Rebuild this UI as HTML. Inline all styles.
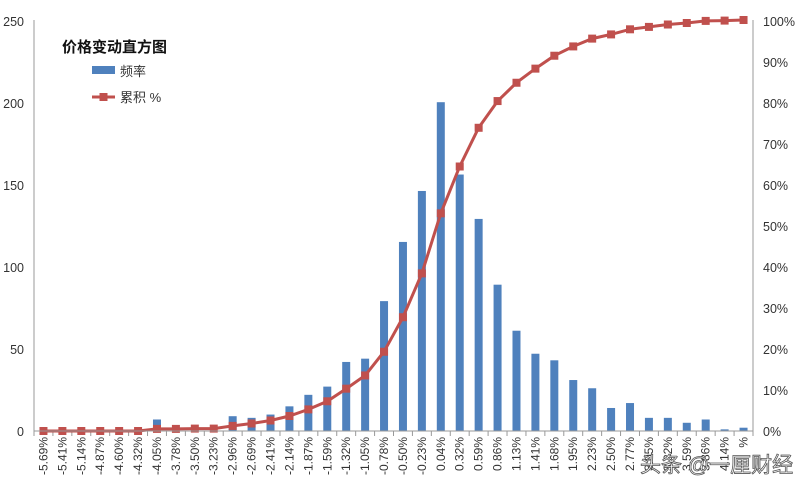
<!DOCTYPE html>
<html><head><meta charset="utf-8"><style>
body{margin:0;background:#fff;}
svg{display:block;font-family:"Liberation Sans","Noto Sans CJK SC",sans-serif;}
.t{font-size:12.5px;fill:#333;}
.x{font-size:12px;fill:#333;}
</style></head><body>
<svg id="s" width="801" height="486" viewBox="0 0 801 486">
<g id="g"></g>
<line x1="34" y1="20" x2="34" y2="431" stroke="#999"/>
<line x1="753" y1="20" x2="753" y2="431" stroke="#999"/>
<line x1="34" y1="431" x2="753" y2="431" stroke="#999"/>
<g class="t" text-anchor="end">
<text x="24" y="436">0</text><text x="24" y="354">50</text><text x="24" y="272">100</text><text x="24" y="190">150</text><text x="24" y="108">200</text><text x="24" y="26">250</text>
</g>
<g class="t">
<text x="763" y="436">0%</text><text x="763" y="395">10%</text><text x="763" y="354">20%</text><text x="763" y="313">30%</text><text x="763" y="272">40%</text><text x="763" y="231">50%</text><text x="763" y="190">60%</text><text x="763" y="149">70%</text><text x="763" y="108">80%</text><text x="763" y="67">90%</text><text x="763" y="26">100%</text>
</g>
<g class="x" text-anchor="end">
<text transform="translate(47.5,437) rotate(-90)">-5.69%</text>
<text transform="translate(66.4,437) rotate(-90)">-5.41%</text>
<text transform="translate(85.3,437) rotate(-90)">-5.14%</text>
<text transform="translate(104.2,437) rotate(-90)">-4.87%</text>
<text transform="translate(123.1,437) rotate(-90)">-4.60%</text>
<text transform="translate(142.1,437) rotate(-90)">-4.32%</text>
<text transform="translate(161,437) rotate(-90)">-4.05%</text>
<text transform="translate(179.9,437) rotate(-90)">-3.78%</text>
<text transform="translate(198.8,437) rotate(-90)">-3.50%</text>
<text transform="translate(217.7,437) rotate(-90)">-3.23%</text>
<text transform="translate(236.7,437) rotate(-90)">-2.96%</text>
<text transform="translate(255.6,437) rotate(-90)">-2.69%</text>
<text transform="translate(274.5,437) rotate(-90)">-2.41%</text>
<text transform="translate(293.4,437) rotate(-90)">-2.14%</text>
<text transform="translate(312.4,437) rotate(-90)">-1.87%</text>
<text transform="translate(331.3,437) rotate(-90)">-1.59%</text>
<text transform="translate(350.2,437) rotate(-90)">-1.32%</text>
<text transform="translate(369.1,437) rotate(-90)">-1.05%</text>
<text transform="translate(388,437) rotate(-90)">-0.78%</text>
<text transform="translate(407,437) rotate(-90)">-0.50%</text>
<text transform="translate(425.9,437) rotate(-90)">-0.23%</text>
<text transform="translate(444.8,437) rotate(-90)">0.04%</text>
<text transform="translate(463.7,437) rotate(-90)">0.32%</text>
<text transform="translate(482.6,437) rotate(-90)">0.59%</text>
<text transform="translate(501.6,437) rotate(-90)">0.86%</text>
<text transform="translate(520.5,437) rotate(-90)">1.13%</text>
<text transform="translate(539.4,437) rotate(-90)">1.41%</text>
<text transform="translate(558.3,437) rotate(-90)">1.68%</text>
<text transform="translate(577.2,437) rotate(-90)">1.95%</text>
<text transform="translate(596.2,437) rotate(-90)">2.23%</text>
<text transform="translate(615.1,437) rotate(-90)">2.50%</text>
<text transform="translate(634,437) rotate(-90)">2.77%</text>
<text transform="translate(652.9,437) rotate(-90)">3.05%</text>
<text transform="translate(671.9,437) rotate(-90)">3.32%</text>
<text transform="translate(690.8,437) rotate(-90)">3.59%</text>
<text transform="translate(709.7,437) rotate(-90)">3.86%</text>
<text transform="translate(728.6,437) rotate(-90)">4.14%</text>
<text transform="translate(747.5,437) rotate(-90)">%</text>
</g>
<text x="62" y="52" style="font-size:15px;font-weight:bold;fill:#111">价格变动直方图</text>
<rect x="92" y="66" width="23" height="8" fill="#4f81bd"/>
<text x="120" y="76" class="t" style="font-size:13px">频率</text>
<line x1="92" y1="97" x2="115" y2="97" stroke="#c0504d" stroke-width="3"/>
<rect x="99.5" y="93" width="8" height="8" fill="#c0504d"/>
<text x="120" y="102" class="t" style="font-size:13px">累积 %</text>
<text x="640" y="472" style="font-size:21px;fill:#fff;stroke:#555;stroke-width:0.8">头条 @一厘财经</text>
</svg>
<script>
var v=[0,0,0,0,0,0,7,0,1,0,9,8,10,15,22,27,42,44,79,115,146,200,156,129,89,61,47,43,31,26,14,17,8,8,5,7,1,2];
var g=document.getElementById('g'),ns="http://www.w3.org/2000/svg",w=719/38,tot=0,c=0,pts=[];
v.forEach(function(a){tot+=a});
function el(n,o){var e=document.createElementNS(ns,n);for(var k in o)e.setAttribute(k,o[k]);g.appendChild(e);return e;}
for(var i=0;i<38;i++){var cx=34+w*(i+0.5);
 if(v[i])el('rect',{x:cx-4,y:431-v[i]*1.644,width:8,height:v[i]*1.644,fill:'#4f81bd'});
 el('line',{x1:34+w*i,y1:431,x2:34+w*i,y2:436,stroke:'#999'});
 c+=v[i];pts.push([cx,431-c/tot*411]);}
el('line',{x1:753,y1:431,x2:753,y2:436,stroke:'#999'});
var d=pts.map(function(p,i){return (i?'L':'M')+p[0].toFixed(1)+' '+p[1].toFixed(1)}).join(' ');
el('path',{d:d,fill:'none',stroke:'#c0504d','stroke-width':3});
pts.forEach(function(p){el('rect',{x:p[0]-4,y:p[1]-4,width:8,height:8,fill:'#c0504d'})});
</script>
</body></html>
